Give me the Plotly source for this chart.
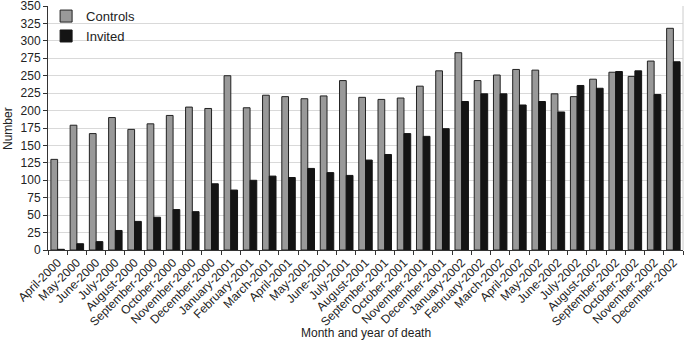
import plotly.graph_objects as go

months = ["April-2000", "May-2000", "June-2000", "July-2000", "August-2000", "September-2000",
          "October-2000", "November-2000", "December-2000", "January-2001", "February-2001",
          "March-2001", "April-2001", "May-2001", "June-2001", "July-2001", "August-2001",
          "September-2001", "October-2001", "November-2001", "December-2001", "January-2002",
          "February-2002", "March-2002", "April-2002", "May-2002", "June-2002", "July-2002",
          "August-2002", "September-2002", "October-2002", "November-2002", "December-2002"]

controls = [130, 179, 167, 190, 173, 181, 193, 205, 203, 250, 204, 222, 220, 217, 221, 243,
            219, 216, 218, 235, 257, 283, 243, 251, 259, 258, 224, 220, 245, 255, 249, 271, 318]
invited = [1, 9, 12, 28, 41, 47, 58, 55, 95, 86, 100, 106, 104, 117, 111, 107, 129, 137,
           167, 163, 174, 213, 224, 224, 208, 213, 198, 236, 232, 256, 257, 223, 270]

fig = go.Figure()
fig.add_trace(go.Bar(x=months, y=controls, name="Controls",
                     marker=dict(color="#999999", line=dict(color="#222222", width=1))))
fig.add_trace(go.Bar(x=months, y=invited, name="Invited",
                     marker=dict(color="#141414", line=dict(color="#141414", width=1))))

fig.update_layout(
    width=685, height=342,
    margin=dict(l=48, r=2, t=6, b=92, autoexpand=False),
    paper_bgcolor="white", plot_bgcolor="white",
    barmode="group", bargap=0.3, bargroupgap=0,
    font=dict(family="Liberation Sans, Arial, sans-serif", size=12, color="#222222"),
    legend=dict(x=-0.003, y=1.02, xanchor="left", yanchor="top", bgcolor="rgba(0,0,0,0)",
                font=dict(size=13), itemwidth=30, tracegroupgap=0),
    showlegend=True,
)
fig.update_xaxes(
    type="category", tickangle=-45, ticks="outside", tickson="boundaries", ticklen=4,
    tickcolor="#333333", showline=True, linecolor="#333333", linewidth=1,
    tickfont=dict(size=12), automargin=False,
)
fig.update_yaxes(
    range=[0, 350], tick0=0, dtick=25, ticks="outside", ticklen=4, tickcolor="#333333",
    showline=True, linecolor="#333333", linewidth=1, gridcolor="#d9d9d9",
    tickfont=dict(size=12), automargin=False, ticklabeloverflow="allow",
)
fig.add_annotation(text="Month and year of death", xref="paper", yref="paper",
                   x=0.5, y=-0.34, xanchor="center", yanchor="middle", showarrow=False,
                   font=dict(size=12))
fig.add_annotation(text="Number", xref="paper", yref="paper", textangle=-90,
                   x=-0.063, y=0.5, xanchor="center", yanchor="middle", showarrow=False,
                   font=dict(size=12))
fig.add_shape(type="line", xref="paper", yref="paper", x0=1, x1=1, y0=0, y1=1,
              line=dict(color="#cccccc", width=1))

fig.write_html("out.html", config={"displayModeBar": False},
               post_script="document.body.style.margin='0';document.body.style.overflow='hidden';")
